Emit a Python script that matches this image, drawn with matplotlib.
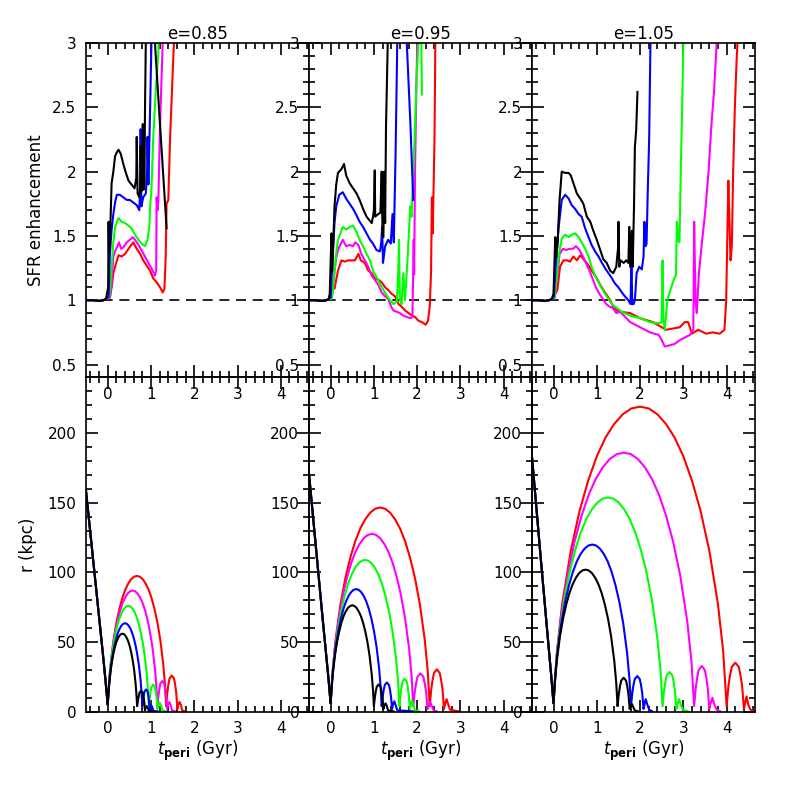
import matplotlib.pyplot as plt
from matplotlib.ticker import MultipleLocator, FormatStrFormatter

# ---------------- data ----------------
ecc_labels = ["e=0.85", "e=0.95", "e=1.05"]

# flat pre-pericentre part of every SFR curve
sfr_pre_t = [-0.5, -0.35, -0.2, -0.1, -0.04]
sfr_pre = [1.0, 1.0, 0.995, 1.0, 1.01]

# e = 0.85, SFR enhancement
sfr_t_085_k = [0.01, 0.02, 0.03, 0.05, 0.09, 0.13, 0.17, 0.21, 0.25, 0.3, 0.36, 0.42, 0.48, 0.55, 0.62, 0.66, 0.67, 0.69, 0.73, 0.75, 0.76, 0.78, 0.8, 0.81, 0.83, 0.85, 0.86, 0.88, 0.9, 1.05, 1.1, 1.2, 1.3, 1.36]
sfr_085_k = [1.1, 1.61, 1.36, 1.45, 1.91, 2.0, 2.12, 2.15, 2.17, 2.14, 2.06, 1.99, 1.93, 1.9, 1.87, 1.95, 2.27, 1.83, 1.8, 1.88, 2.2, 1.85, 1.86, 2.37, 1.86, 1.9, 2.44, 3.0, 3.5, 3.5, 2.95, 2.41, 1.88, 1.56]
sfr_t_085_b = [0.02, 0.05, 0.09, 0.13, 0.17, 0.21, 0.28, 0.36, 0.44, 0.51, 0.59, 0.67, 0.73, 0.75, 0.76, 0.78, 0.82, 0.88, 0.91, 0.92, 0.94, 0.98, 1.01, 1.03]
sfr_085_b = [1.03, 1.36, 1.55, 1.67, 1.76, 1.82, 1.82, 1.8, 1.78, 1.78, 1.76, 1.74, 1.70, 1.9, 2.33, 1.73, 1.8, 1.83, 2.0, 2.27, 1.9, 2.5, 3.0, 3.5]
sfr_t_085_g = [0.04, 0.09, 0.13, 0.17, 0.25, 0.32, 0.4, 0.48, 0.55, 0.63, 0.71, 0.78, 0.86, 0.92, 0.96, 0.98, 1.01, 1.05, 1.11, 1.17, 1.2]
sfr_085_g = [1.03, 1.26, 1.45, 1.57, 1.64, 1.61, 1.6, 1.58, 1.56, 1.51, 1.47, 1.44, 1.42, 1.47, 1.57, 1.73, 1.86, 2.25, 2.63, 2.92, 3.5]
sfr_t_085_m = [0.05, 0.09, 0.13, 0.17, 0.21, 0.26, 0.31, 0.36, 0.44, 0.51, 0.58, 0.63, 0.71, 0.78, 0.86, 0.94, 1.01, 1.09, 1.12, 1.13, 1.15, 1.17, 1.21, 1.27, 1.3]
sfr_085_m = [1.02, 1.13, 1.34, 1.38, 1.41, 1.45, 1.4, 1.41, 1.45, 1.47, 1.49, 1.47, 1.43, 1.39, 1.34, 1.29, 1.25, 1.19, 1.23, 1.8, 1.7, 1.78, 2.37, 3.0, 3.5]
sfr_t_085_r = [0.05, 0.09, 0.13, 0.17, 0.25, 0.32, 0.4, 0.48, 0.59, 0.67, 0.75, 0.82, 0.9, 0.98, 1.05, 1.13, 1.21, 1.27, 1.31, 1.34, 1.36, 1.4, 1.44, 1.5, 1.53, 1.56]
sfr_085_r = [1.02, 1.1, 1.21, 1.26, 1.35, 1.34, 1.36, 1.4, 1.45, 1.4, 1.36, 1.31, 1.27, 1.23, 1.17, 1.14, 1.1, 1.06, 1.09, 1.34, 1.75, 1.78, 2.25, 2.76, 3.0, 3.5]

# e = 0.95, SFR enhancement
sfr_t_095_k = [-0.02, 0.02, 0.04, 0.09, 0.13, 0.17, 0.25, 0.31, 0.36, 0.44, 0.52, 0.6, 0.67, 0.75, 0.83, 0.95, 0.98, 1.0, 1.02, 1.03, 1.1, 1.15, 1.18, 1.2, 1.22, 1.24, 1.26, 1.28, 1.32, 1.34]
sfr_095_k = [1.05, 1.52, 1.23, 1.73, 1.9, 1.99, 2.02, 2.06, 1.97, 1.91, 1.87, 1.83, 1.78, 1.71, 1.65, 1.6, 1.65, 1.7, 2.01, 1.65, 1.67, 1.68, 2.0, 1.5, 1.49, 2.0, 1.6, 2.35, 3.0, 3.5]
sfr_t_095_b = [0.0, 0.05, 0.09, 0.13, 0.2, 0.28, 0.36, 0.44, 0.52, 0.6, 0.67, 0.75, 0.83, 0.91, 0.98, 1.06, 1.14, 1.17, 1.19, 1.21, 1.26, 1.33, 1.39, 1.43, 1.46, 1.5, 1.54, 1.56, 1.7, 1.76, 1.84, 1.91]
sfr_095_b = [1.02, 1.36, 1.6, 1.73, 1.82, 1.84, 1.79, 1.75, 1.71, 1.66, 1.61, 1.57, 1.52, 1.47, 1.44, 1.39, 1.38, 1.45, 1.57, 1.29, 1.42, 1.47, 1.44, 1.67, 1.45, 2.12, 3.0, 3.5, 3.5, 3.0, 2.4, 1.78]
sfr_t_095_g = [0.02, 0.05, 0.09, 0.13, 0.17, 0.28, 0.36, 0.44, 0.52, 0.6, 0.67, 0.75, 0.83, 0.91, 0.98, 1.06, 1.14, 1.22, 1.29, 1.37, 1.45, 1.53, 1.56, 1.58, 1.6, 1.64, 1.68, 1.72, 1.78, 1.84, 1.87, 1.94, 1.99, 2.03, 2.06, 2.08, 2.11]
sfr_095_g = [1.01, 1.08, 1.21, 1.37, 1.47, 1.57, 1.55, 1.57, 1.58, 1.53, 1.47, 1.42, 1.36, 1.31, 1.23, 1.18, 1.13, 1.08, 1.04, 1.0, 0.97, 0.99, 1.2, 1.47, 1.0, 0.97, 1.21, 1.0, 1.34, 1.73, 1.65, 2.25, 2.76, 3.0, 3.5, 3.5, 2.6]
sfr_t_095_m = [0.03, 0.06, 0.09, 0.13, 0.17, 0.22, 0.28, 0.36, 0.44, 0.52, 0.57, 0.64, 0.71, 0.79, 0.87, 0.95, 1.02, 1.1, 1.18, 1.26, 1.33, 1.4, 1.45, 1.53, 1.6, 1.68, 1.76, 1.84, 1.89, 1.92, 1.93, 1.95, 1.98, 2.03]
sfr_095_m = [1.02, 1.1, 1.23, 1.33, 1.39, 1.43, 1.47, 1.42, 1.43, 1.42, 1.45, 1.43, 1.36, 1.31, 1.26, 1.19, 1.16, 1.12, 1.06, 1.03, 1.01, 0.95, 0.92, 0.91, 0.9, 0.88, 0.87, 0.86, 0.87, 1.47, 1.2, 1.99, 2.63, 3.5]
sfr_t_095_r = [0.05, 0.09, 0.13, 0.17, 0.25, 0.33, 0.4, 0.48, 0.56, 0.64, 0.7, 0.79, 0.87, 0.95, 1.02, 1.1, 1.18, 1.26, 1.33, 1.41, 1.49, 1.57, 1.64, 1.72, 1.8, 1.88, 1.95, 2.03, 2.11, 2.15, 2.2, 2.25, 2.29, 2.32, 2.34, 2.36, 2.4, 2.42, 2.45]
sfr_095_r = [1.12, 1.09, 1.16, 1.23, 1.31, 1.3, 1.31, 1.31, 1.31, 1.36, 1.31, 1.29, 1.23, 1.21, 1.17, 1.16, 1.14, 1.1, 1.08, 1.05, 1.03, 0.97, 0.95, 0.92, 0.9, 0.88, 0.87, 0.84, 0.83, 0.82, 0.81, 0.84, 0.95, 1.21, 1.8, 1.52, 2.25, 3.0, 3.5]

# e = 1.05, SFR enhancement
sfr_t_105_k = [0.0, 0.04, 0.06, 0.09, 0.14, 0.19, 0.27, 0.35, 0.4, 0.46, 0.54, 0.62, 0.69, 0.77, 0.85, 0.92, 1.0, 1.08, 1.15, 1.23, 1.31, 1.38, 1.45, 1.49, 1.5, 1.52, 1.55, 1.62, 1.68, 1.73, 1.75, 1.77, 1.81, 1.83, 1.86, 1.88, 1.91, 1.94]
sfr_105_k = [1.05, 1.49, 1.33, 1.42, 1.78, 2.0, 1.99, 1.99, 1.97, 1.91, 1.83, 1.79, 1.75, 1.65, 1.61, 1.54, 1.47, 1.39, 1.32, 1.29, 1.23, 1.21, 1.26, 1.4, 1.61, 1.26, 1.31, 1.29, 1.31, 1.29, 1.57, 1.26, 1.54, 1.26, 1.73, 2.19, 2.32, 2.62]
sfr_t_105_b = [0.01, 0.04, 0.08, 0.12, 0.19, 0.27, 0.35, 0.42, 0.5, 0.58, 0.65, 0.73, 0.81, 0.88, 0.96, 1.04, 1.12, 1.19, 1.27, 1.35, 1.42, 1.5, 1.58, 1.65, 1.73, 1.78, 1.8, 1.82, 1.85, 1.88, 1.92, 1.98, 2.04, 2.08, 2.1, 2.13, 2.15, 2.18, 2.21, 2.24, 2.26]
sfr_105_b = [1.03, 1.21, 1.4, 1.57, 1.78, 1.82, 1.79, 1.74, 1.71, 1.67, 1.65, 1.56, 1.49, 1.43, 1.38, 1.34, 1.29, 1.25, 1.21, 1.17, 1.13, 1.1, 1.06, 1.03, 1.0, 0.97, 1.31, 0.97, 0.97, 1.0, 1.21, 1.26, 1.24, 1.34, 1.61, 1.42, 1.44, 1.88, 2.25, 3.0, 3.5]
sfr_t_105_g = [0.02, 0.06, 0.12, 0.19, 0.27, 0.35, 0.42, 0.5, 0.58, 0.65, 0.73, 0.81, 0.88, 0.96, 1.04, 1.12, 1.19, 1.27, 1.35, 1.42, 1.5, 1.58, 1.77, 2.0, 2.23, 2.43, 2.5, 2.52, 2.54, 2.57, 2.63, 2.7, 2.78, 2.83, 2.85, 2.88, 2.91, 2.94, 2.98, 3.0, 3.02]
sfr_105_g = [1.02, 1.13, 1.34, 1.48, 1.51, 1.49, 1.51, 1.52, 1.49, 1.45, 1.40, 1.34, 1.26, 1.19, 1.14, 1.09, 1.05, 1.01, 0.97, 0.95, 0.93, 0.91, 0.88, 0.86, 0.83, 0.82, 0.83, 1.31, 0.85, 0.77, 1.0, 1.08, 1.16, 1.2, 1.61, 1.47, 1.45, 1.99, 2.63, 3.0, 3.5]
sfr_t_105_m = [0.03, 0.08, 0.14, 0.22, 0.29, 0.37, 0.45, 0.52, 0.6, 0.68, 0.75, 0.83, 0.91, 0.98, 1.06, 1.14, 1.22, 1.29, 1.37, 1.45, 1.54, 1.77, 2.0, 2.23, 2.43, 2.5, 2.57, 2.69, 2.8, 2.92, 3.03, 3.15, 3.23, 3.25, 3.28, 3.31, 3.36, 3.42, 3.5, 3.58, 3.65, 3.71, 3.77, 3.8]
sfr_105_m = [1.02, 1.16, 1.36, 1.40, 1.39, 1.40, 1.40, 1.42, 1.39, 1.34, 1.29, 1.23, 1.16, 1.1, 1.05, 1.01, 0.97, 0.95, 0.94, 0.9, 0.91, 0.83, 0.79, 0.75, 0.73, 0.69, 0.64, 0.65, 0.66, 0.69, 0.71, 0.73, 0.77, 1.61, 1.0, 0.9, 1.21, 1.42, 1.67, 1.99, 2.37, 2.63, 3.0, 3.5]
sfr_t_105_r = [0.04, 0.09, 0.15, 0.23, 0.31, 0.38, 0.46, 0.54, 0.62, 0.69, 0.77, 0.85, 0.92, 1.0, 1.08, 1.15, 1.23, 1.31, 1.38, 1.46, 1.54, 1.77, 2.0, 2.3, 2.5, 2.6, 2.76, 2.92, 3.03, 3.11, 3.16, 3.2, 3.34, 3.53, 3.68, 3.84, 3.95, 3.99, 4.02, 4.04, 4.06, 4.09, 4.12, 4.15, 4.19, 4.23, 4.25, 4.28]
sfr_105_r = [1.05, 1.08, 1.26, 1.31, 1.31, 1.30, 1.34, 1.31, 1.35, 1.32, 1.29, 1.25, 1.21, 1.17, 1.12, 1.08, 1.04, 1.0, 0.95, 0.92, 0.91, 0.9, 0.86, 0.83, 0.79, 0.77, 0.78, 0.79, 0.83, 0.83, 0.78, 0.74, 0.77, 0.74, 0.75, 0.74, 0.77, 1.0, 1.57, 1.93, 1.67, 1.31, 1.42, 1.99, 2.5, 2.86, 3.0, 3.5]

# orbits: common infall leg before first pericentre
rin_t_085 = [-0.5, -0.4, -0.3, -0.2, -0.1, -0.05, 0.0]
rin_085 = [158, 128, 98, 68, 38, 22, 5]
rin_t_095 = [-0.5, -0.4, -0.3, -0.2, -0.1, -0.05, 0.0]
rin_095 = [171, 138, 105, 72, 40, 24, 6]
rin_t_105 = [-0.5, -0.4, -0.3, -0.2, -0.1, -0.05, 0.0]
rin_105 = [184, 148, 112, 77, 42, 25, 6]

# e = 0.85, r (kpc)
r_t_085_k = [0.0136, 0.034, 0.068, 0.102, 0.136, 0.17, 0.204, 0.238, 0.272, 0.306, 0.34, 0.374, 0.408, 0.442, 0.476, 0.51, 0.544, 0.578, 0.612, 0.646, 0.6664, 0.68,
             0.698, 0.716, 0.734, 0.77, 0.806, 0.824, 0.842, 0.86, 0.875, 0.9, 0.93, 0.95, 1.05]
r_085_k = [11.1, 19.7, 29.6, 36.8, 42.4, 46.9, 50.3, 52.8, 54.6, 55.7, 56, 55.7, 54.6, 52.8, 50.3, 46.9, 42.4, 36.8, 29.6, 19.7, 11.1, 4,
           7.7, 11, 13.7, 15, 13.7, 11, 7.7, 1, 2.5, 4, 2.5, 0.5, 0.3]
r_t_085_b = [0.016, 0.04, 0.08, 0.12, 0.16, 0.2, 0.24, 0.28, 0.32, 0.36, 0.4, 0.44, 0.48, 0.52, 0.56, 0.6, 0.64, 0.68, 0.72, 0.76, 0.784, 0.80,
             0.817, 0.834, 0.851, 0.885, 0.919, 0.936, 0.953, 0.97, 0.99, 1.01, 1.03, 1.06, 1.15]
r_085_b = [12.6, 22.4, 33.5, 41.7, 48.1, 53.1, 57.0, 59.9, 61.9, 63.1, 63.5, 63.1, 61.9, 59.9, 57.0, 53.1, 48.1, 41.7, 33.5, 22.4, 12.6, 4,
           8.2, 12, 14.6, 16, 14.6, 12, 8.2, 1.5, 3.5, 4.5, 3, 0.5, 0.3]
r_t_085_g = [0.019, 0.0475, 0.095, 0.1425, 0.19, 0.2375, 0.285, 0.3325, 0.38, 0.4275, 0.475, 0.5225, 0.57, 0.6175, 0.665, 0.7125, 0.76, 0.8075, 0.855, 0.9025, 0.931, 0.95,
             0.97, 0.99, 1.01, 1.05, 1.09, 1.11, 1.13, 1.15, 1.17, 1.2, 1.23, 1.27, 1.35]
r_085_g = [15.1, 26.8, 40.1, 49.9, 57.5, 63.6, 68.2, 71.7, 74.1, 75.5, 76, 75.5, 74.1, 71.7, 68.2, 63.6, 57.5, 49.9, 40.1, 26.8, 15.1, 4,
           10, 14.6, 17.8, 19.5, 17.8, 14.6, 10, 2, 5, 6.5, 4.5, 0.8, 0.3]
r_t_085_m = [0.023, 0.0575, 0.115, 0.1725, 0.23, 0.2875, 0.345, 0.4025, 0.46, 0.5175, 0.575, 0.6325, 0.69, 0.7475, 0.805, 0.8625, 0.92, 0.9775, 1.035, 1.0925, 1.127, 1.15,
             1.172, 1.194, 1.216, 1.26, 1.304, 1.326, 1.348, 1.37, 1.39, 1.42, 1.45, 1.49, 1.55]
r_085_m = [17.3, 30.6, 45.9, 57.2, 65.9, 72.8, 78.1, 82.0, 84.8, 86.5, 87, 86.5, 84.8, 82.0, 78.1, 72.8, 65.9, 57.2, 45.9, 30.6, 17.3, 4,
           11.2, 16.5, 20.1, 22, 20.1, 16.5, 11.2, 2, 5, 7, 5, 0.8, 0.3]
r_t_085_r = [0.027, 0.0675, 0.135, 0.2025, 0.27, 0.3375, 0.405, 0.4725, 0.54, 0.6075, 0.675, 0.7425, 0.81, 0.8775, 0.945, 1.0125, 1.08, 1.1475, 1.215, 1.2825, 1.323, 1.35,
             1.376, 1.402, 1.428, 1.48, 1.532, 1.558, 1.584, 1.61, 1.63, 1.66, 1.69, 1.72, 1.78]
r_085_r = [19.4, 34.3, 51.5, 64.1, 73.8, 81.6, 87.6, 91.9, 95.1, 96.9, 97.5, 96.9, 95.1, 91.9, 87.6, 81.6, 73.8, 64.1, 51.5, 34.3, 19.4, 4,
           13.3, 19.5, 23.8, 26, 23.8, 19.5, 13.3, 2, 5, 7, 5, 1, 0.3]

# e = 0.95, r (kpc)
r_t_095_k = [0.02, 0.05, 0.1, 0.15, 0.2, 0.25, 0.3, 0.35, 0.4, 0.45, 0.5, 0.55, 0.6, 0.65, 0.7, 0.75, 0.8, 0.85, 0.9, 0.95, 0.98, 1.0,
             1.022, 1.044, 1.066, 1.11, 1.154, 1.176, 1.198, 1.22, 1.24, 1.27, 1.3, 1.33, 1.45]
r_095_k = [15.2, 26.9, 40.3, 50.2, 57.8, 63.9, 68.6, 72.0, 74.5, 75.9, 76.4, 75.9, 74.5, 72.0, 68.6, 63.9, 57.8, 50.2, 40.3, 26.9, 15.2, 4,
           10, 14.7, 17.9, 19.6, 17.9, 14.7, 10, 2, 4.5, 6, 4, 0.8, 0.3]
r_t_095_b = [0.0236, 0.059, 0.118, 0.177, 0.236, 0.295, 0.354, 0.413, 0.472, 0.531, 0.59, 0.649, 0.708, 0.767, 0.826, 0.885, 0.944, 1.003, 1.062, 1.121, 1.1564, 1.18,
             1.204, 1.228, 1.252, 1.30, 1.348, 1.372, 1.396, 1.42, 1.44, 1.47, 1.5, 1.54, 1.9]
r_095_b = [17.5, 31.0, 46.5, 57.8, 66.6, 73.7, 79.0, 83.0, 85.8, 87.5, 88, 87.5, 85.8, 83.0, 79.0, 73.7, 66.6, 57.8, 46.5, 31.0, 17.5, 4,
           10.7, 15.8, 19.2, 21, 19.2, 15.8, 10.7, 2, 5, 7.5, 5, 1, 0.3]
r_t_095_g = [0.0318, 0.0795, 0.159, 0.2385, 0.318, 0.3975, 0.477, 0.5565, 0.636, 0.7155, 0.795, 0.8745, 0.954, 1.0335, 1.113, 1.1925, 1.272, 1.3515, 1.431, 1.5105, 1.5582, 1.59,
             1.614, 1.638, 1.662, 1.71, 1.758, 1.782, 1.806, 1.83, 1.85, 1.88, 1.91, 1.95, 2.05]
r_095_g = [21.7, 38.4, 57.6, 71.6, 82.5, 91.2, 97.9, 102.8, 106.3, 108.3, 109, 108.3, 106.3, 102.8, 97.9, 91.2, 82.5, 71.6, 57.6, 38.4, 21.7, 4,
           12, 17.8, 21.7, 23.7, 21.7, 17.8, 12, 2, 5, 8, 5, 1, 0.3]
r_t_095_m = [0.0382, 0.0955, 0.191, 0.2865, 0.382, 0.4775, 0.573, 0.6685, 0.764, 0.8595, 0.955, 1.0505, 1.146, 1.2415, 1.337, 1.4325, 1.528, 1.6235, 1.719, 1.8145, 1.8718, 1.91,
             1.943, 1.976, 2.009, 2.075, 2.141, 2.174, 2.207, 2.24, 2.26, 2.3, 2.34, 2.38, 2.45]
r_095_m = [25.4, 45.0, 67.4, 83.9, 96.7, 106.9, 114.7, 120.4, 124.5, 126.9, 127.7, 126.9, 124.5, 120.4, 114.7, 106.9, 96.7, 83.9, 67.4, 45.0, 25.4, 4,
           14, 20.6, 25.2, 27.5, 25.2, 20.6, 14, 2, 4, 7, 4, 1, 0.3]
r_t_095_r = [0.0458, 0.1145, 0.229, 0.3435, 0.458, 0.5725, 0.687, 0.8015, 0.916, 1.0305, 1.145, 1.2595, 1.374, 1.4885, 1.603, 1.7175, 1.832, 1.9465, 2.061, 2.1755, 2.2442, 2.29,
             2.323, 2.356, 2.389, 2.455, 2.521, 2.554, 2.587, 2.62, 2.64, 2.68, 2.72, 2.76, 2.95]
r_095_r = [29.2, 51.6, 77.4, 96.3, 111.0, 122.7, 131.6, 138.2, 142.9, 145.7, 146.6, 145.7, 142.9, 138.2, 131.6, 122.7, 111.0, 96.3, 77.4, 51.6, 29.2, 4,
           15.5, 22.8, 27.8, 30.4, 27.8, 22.8, 15.5, 2, 5, 9, 5, 1.5, 0.3]

# e = 1.05, r (kpc)
r_t_105_k = [0.0296, 0.074, 0.148, 0.222, 0.296, 0.37, 0.444, 0.518, 0.592, 0.666, 0.74, 0.814, 0.888, 0.962, 1.036, 1.11, 1.184, 1.258, 1.332, 1.406, 1.4504, 1.48,
             1.508, 1.536, 1.564, 1.62, 1.676, 1.704, 1.732, 1.76, 1.78, 1.81, 1.84, 1.88, 1.95]
r_105_k = [20.3, 35.9, 53.9, 67.0, 77.2, 85.4, 91.6, 96.2, 99.5, 101.4, 102, 101.4, 99.5, 96.2, 91.6, 85.4, 77.2, 67.0, 53.9, 35.9, 20.3, 4,
           12.4, 18.3, 22.3, 24.4, 22.3, 18.3, 12.4, 2, 4, 5.5, 3.5, 0.8, 0.3]
r_t_105_b = [0.0358, 0.0895, 0.179, 0.2685, 0.358, 0.4475, 0.537, 0.6265, 0.716, 0.8055, 0.895, 0.9845, 1.074, 1.1635, 1.253, 1.3425, 1.432, 1.5215, 1.611, 1.7005, 1.7542, 1.79,
             1.819, 1.848, 1.877, 1.935, 1.993, 2.022, 2.051, 2.08, 2.1, 2.13, 2.17, 2.21, 2.28]
r_105_b = [23.9, 42.2, 63.4, 78.8, 90.8, 100.4, 107.8, 113.2, 117.0, 119.3, 120, 119.3, 117.0, 113.2, 107.8, 100.4, 90.8, 78.8, 63.4, 42.2, 23.9, 4,
           13.1, 19.2, 23.4, 25.6, 23.4, 19.2, 13.1, 2, 5, 9, 5, 1.5, 0.3]
r_t_105_g = [0.0504, 0.126, 0.252, 0.378, 0.504, 0.63, 0.756, 0.882, 1.008, 1.134, 1.26, 1.386, 1.512, 1.638, 1.764, 1.89, 2.016, 2.142, 2.268, 2.394, 2.4696, 2.52,
             2.552, 2.584, 2.616, 2.68, 2.744, 2.776, 2.808, 2.84, 2.86, 2.9, 2.94, 2.99, 3.1]
r_105_g = [30.6, 54.1, 81.2, 101.0, 116.4, 128.7, 138.1, 145.0, 150.0, 152.9, 153.8, 152.9, 150.0, 145.0, 138.1, 128.7, 116.4, 101.0, 81.2, 54.1, 30.6, 4,
           14.5, 21.4, 26.1, 28.5, 26.1, 21.4, 14.5, 2, 5, 9, 5, 1.5, 0.3]
r_t_105_m = [0.065, 0.1625, 0.325, 0.4875, 0.65, 0.8125, 0.975, 1.1375, 1.3, 1.4625, 1.625, 1.7875, 1.95, 2.1125, 2.275, 2.4375, 2.6, 2.7625, 2.925, 3.0875, 3.185, 3.25,
             3.285, 3.32, 3.355, 3.425, 3.495, 3.53, 3.565, 3.6, 3.62, 3.67, 3.72, 3.77, 3.85]
r_105_m = [37.0, 65.5, 98.2, 122.2, 140.8, 155.7, 167.0, 175.4, 181.4, 184.9, 186, 184.9, 181.4, 175.4, 167.0, 155.7, 140.8, 122.2, 98.2, 65.5, 37.0, 4,
           16.7, 24.6, 30, 32.8, 30, 24.6, 16.7, 2, 5, 10, 5, 1.5, 0.3]
r_t_105_r = [0.08, 0.2, 0.4, 0.6, 0.8, 1.0, 1.2, 1.4, 1.6, 1.8, 2.0, 2.2, 2.4, 2.6, 2.8, 3.0, 3.2, 3.4, 3.6, 3.8, 3.92, 4.0,
             4.04, 4.08, 4.12, 4.2, 4.28, 4.32, 4.36, 4.4, 4.42, 4.46, 4.5, 4.55, 4.65]
r_105_r = [43.6, 77.1, 115.6, 143.9, 165.8, 183.3, 196.7, 206.5, 213.5, 217.7, 219, 217.7, 213.5, 206.5, 196.7, 183.3, 165.8, 143.9, 115.6, 77.1, 43.6, 4,
           18, 26.4, 32.2, 35.2, 32.2, 26.4, 18, 2, 5, 11, 5, 1.5, 0.5]

# ---------------- plotting ----------------
colors = {"r": "#ff0000", "m": "#ff00ff", "g": "#00ff00", "b": "#0000ff", "k": "#000000"}
order = ["r", "m", "g", "b", "k"]

sfr_sets = [
    {"r": (sfr_t_085_r, sfr_085_r), "m": (sfr_t_085_m, sfr_085_m), "g": (sfr_t_085_g, sfr_085_g),
     "b": (sfr_t_085_b, sfr_085_b), "k": (sfr_t_085_k, sfr_085_k)},
    {"r": (sfr_t_095_r, sfr_095_r), "m": (sfr_t_095_m, sfr_095_m), "g": (sfr_t_095_g, sfr_095_g),
     "b": (sfr_t_095_b, sfr_095_b), "k": (sfr_t_095_k, sfr_095_k)},
    {"r": (sfr_t_105_r, sfr_105_r), "m": (sfr_t_105_m, sfr_105_m), "g": (sfr_t_105_g, sfr_105_g),
     "b": (sfr_t_105_b, sfr_105_b), "k": (sfr_t_105_k, sfr_105_k)},
]
orb_sets = [
    {"r": (r_t_085_r, r_085_r), "m": (r_t_085_m, r_085_m), "g": (r_t_085_g, r_085_g),
     "b": (r_t_085_b, r_085_b), "k": (r_t_085_k, r_085_k)},
    {"r": (r_t_095_r, r_095_r), "m": (r_t_095_m, r_095_m), "g": (r_t_095_g, r_095_g),
     "b": (r_t_095_b, r_095_b), "k": (r_t_095_k, r_095_k)},
    {"r": (r_t_105_r, r_105_r), "m": (r_t_105_m, r_105_m), "g": (r_t_105_g, r_105_g),
     "b": (r_t_105_b, r_105_b), "k": (r_t_105_k, r_105_k)},
]
infall = [(rin_t_085, rin_085), (rin_t_095, rin_095), (rin_t_105, rin_105)]

plt.rcParams["font.family"] = "DejaVu Sans"
fig, axes = plt.subplots(2, 3, figsize=(7.97, 7.97), dpi=100)
fig.subplots_adjust(left=0.108, right=0.947, bottom=0.107, top=0.946, wspace=0, hspace=0)


def style(ax, ymajor, yminor):
    ax.set_xlim(-0.5, 4.65)
    ax.xaxis.set_major_locator(MultipleLocator(1))
    ax.xaxis.set_minor_locator(MultipleLocator(0.2))
    ax.yaxis.set_major_locator(MultipleLocator(ymajor))
    ax.yaxis.set_minor_locator(MultipleLocator(yminor))
    ax.yaxis.set_major_formatter(FormatStrFormatter("%g"))
    ax.tick_params(which="both", direction="in", top=True, right=True, width=1.2,
                   labelsize=11, pad=7)
    ax.tick_params(which="major", length=8.5)
    ax.tick_params(which="minor", length=4.3)
    for s in ax.spines.values():
        s.set_linewidth(1.2)


for j in range(3):
    ax = axes[0, j]
    ax.axhline(1.0, color="k", lw=1.2, dashes=(6, 4), zorder=1)
    for c in order:
        tt, vv = sfr_sets[j][c]
        ax.plot(sfr_pre_t + tt, sfr_pre + vv, color=colors[c], lw=1.5, zorder=2)
    ax.set_ylim(0.4, 3.0)
    style(ax, 0.5, 0.1)
    ax.set_title(ecc_labels[j], fontsize=12, pad=2)

    ax = axes[1, j]
    ax.set_facecolor("none")
    ti, ri = infall[j]
    for c in order:
        tt, rr = orb_sets[j][c]
        ax.plot(ti + tt, ri + rr, color=colors[c], lw=1.5)
    ax.set_ylim(0, 240)
    style(ax, 50, 10)
    ax.xaxis.set_major_formatter(FormatStrFormatter("%g"))
    fig.text((86 + 223 * (j + 0.5)) / 797, 0.058, r"$t_{\mathbf{peri}}$ (Gyr)",
             ha="center", va="center", fontsize=12)

fig.text(36 / 797, 1 - 210 / 797, "SFR enhancement", rotation=90, ha="center", va="center", fontsize=12)
fig.text(28 / 797, 1 - 545 / 797, "r (kpc)", rotation=90, ha="center", va="center", fontsize=12)

fig.savefig("out.png", dpi=100)
